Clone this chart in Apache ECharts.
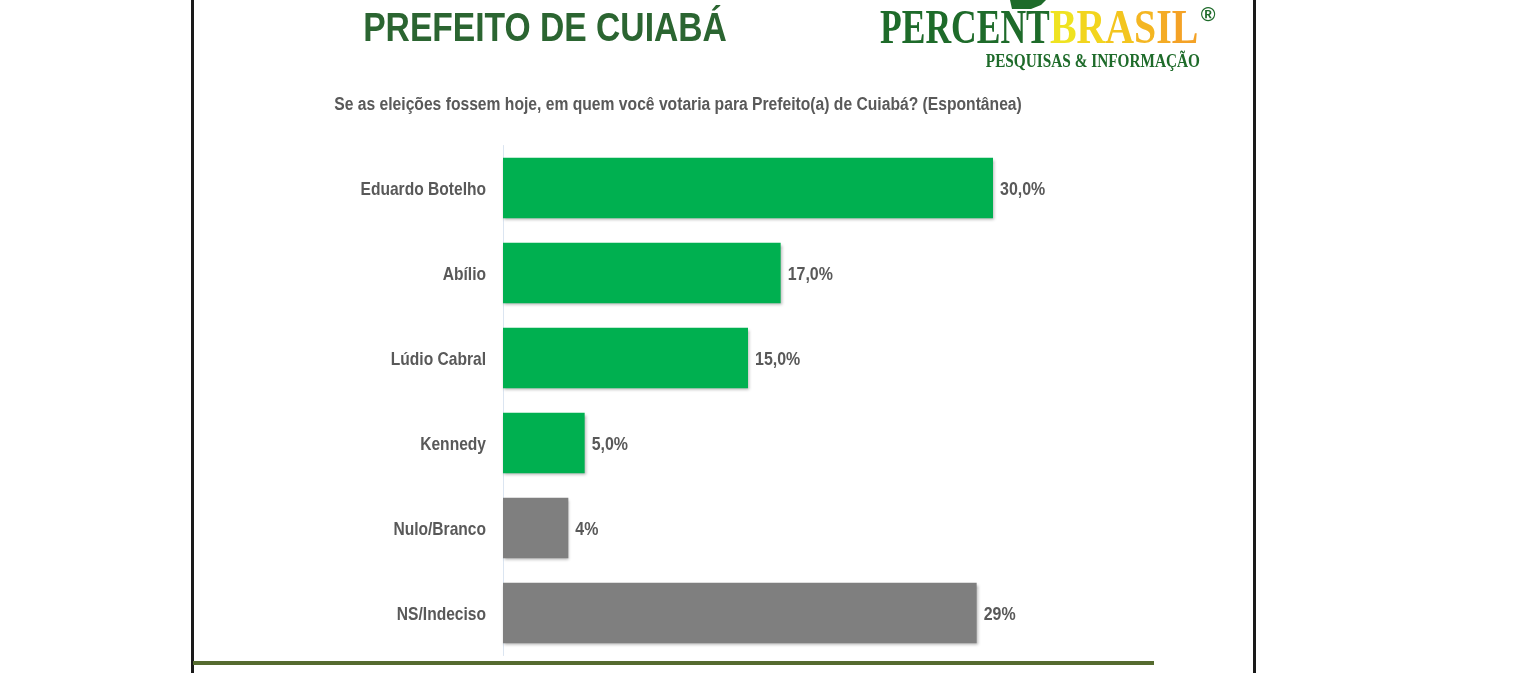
<!DOCTYPE html>
<html><head><meta charset="utf-8">
<script src="https://cdn.jsdelivr.net/npm/echarts@6/dist/echarts.min.js"></script>
<style>html,body{margin:0;padding:0;background:#fff}#c{width:1536px;height:686px}</style>
</head><body><div id="c"></div>
<script>
const categories = ['Eduardo Botelho','Abílio','Lúdio Cabral','Kennedy','Nulo/Branco','NS/Indeciso'];
const values = [30, 17, 15, 5, 4, 29];
const valueLabels = ['30,0%','17,0%','15,0%','5,0%','4%','29%'];
const barColors = ['#00b050','#00b050','#00b050','#00b050','#7f7f7f','#7f7f7f'];

const FONT = '"Liberation Sans",Arial,sans-serif';
const SERIF = '"Liberation Serif","Times New Roman",serif';
const NARROW = 0.82;
const chart = echarts.init(document.getElementById('c'));
chart.setOption({
  backgroundColor: '#fff',
  animation: false,
  grid: {left: 503, right: 543, top: 145.5, bottom: 30.5},
  xAxis: {type: 'value', min: 0, max: 30, show: false},
  yAxis: {
    type: 'category', inverse: true, data: categories,
    axisLine: {show: true, lineStyle: {color: '#dbe5f1', width: 1}},
    axisTick: {show: false},
    axisLabel: {show: false}
  },
  series: [{
    type: 'bar',
    barCategoryGap: '29%',
    data: values.map((v, i) => ({value: v, itemStyle: {color: barColors[i]}})),
    itemStyle: {shadowBlur: 3, shadowOffsetY: 2, shadowOffsetX: 1, shadowColor: 'rgba(0,0,0,0.3)'},
    label: {show: false}
  }]
});

// Labels placed through the library's own scales, drawn in a condensed form
const labelGfx = [];
categories.forEach((c, i) => {
  const p0 = chart.convertToPixel({gridIndex: 0}, [0, i]);
  const p1 = chart.convertToPixel({gridIndex: 0}, [values[i], i]);
  labelGfx.push({type: 'text', x: p0[0] - 17, y: p0[1] + 2, scaleX: NARROW,
    style: {text: c, fill: '#595959', font: 'bold 19px ' + FONT, textAlign: 'right', textVerticalAlign: 'middle'}});
  labelGfx.push({type: 'text', x: p1[0] + 7, y: p1[1] + 2, scaleX: 0.84,
    style: {text: valueLabels[i], fill: '#595959', font: 'bold 19px ' + FONT, textAlign: 'left', textVerticalAlign: 'middle'}});
});

const brasilColors = ['#efe321','#f2d51e','#f3c51f','#f4b622','#f4ab24','#f4a226'];
const rich = {};
let brasilText = '';
'BRASIL'.split('').forEach((ch, i) => {
  rich['c' + i] = {fill: brasilColors[i], font: 'bold 48px ' + SERIF};
  brasilText += '{c' + i + '|' + ch + '}';
});

chart.setOption({
  graphic: [
    {type: 'rect', shape: {x: 191, y: 0, width: 3, height: 673}, style: {fill: '#1a1a1a'}},
    {type: 'rect', shape: {x: 1253, y: 0, width: 3, height: 673}, style: {fill: '#1a1a1a'}},
    {type: 'rect', shape: {x: 193, y: 661, width: 961, height: 4}, style: {fill: '#556b2f'}},
    {type: 'text', x: 545, y: 30, scaleX: NARROW, style: {text: 'PREFEITO DE CUIABÁ', fill: '#2b6531', font: 'bold 41px ' + FONT, textAlign: 'center', textVerticalAlign: 'middle'}},
    {type: 'text', x: 678, y: 105, scaleX: 0.87, style: {text: 'Se as eleições fossem hoje, em quem você votaria para Prefeito(a) de Cuiabá? (Espontânea)', fill: '#595959', font: 'bold 18px ' + FONT, textAlign: 'center', textVerticalAlign: 'middle'}},
    {type: 'polygon', shape: {points: [[1010,0],[1046,0],[1041,5],[1031,9],[1012,9]]}, style: {fill: '#1e6b2a'}},
    {type: 'text', x: 880, y: 31, scaleX: 0.74, style: {text: 'PERCENT', fill: '#1e6b2a', font: 'bold 48px ' + SERIF, textAlign: 'left', textVerticalAlign: 'middle'}},
    {type: 'text', x: 1050, y: 31, scaleX: 0.83, style: {text: brasilText, rich: rich, font: 'bold 48px ' + SERIF, textAlign: 'left', textVerticalAlign: 'middle'}},
    {type: 'text', x: 1208, y: 15, style: {text: '®', fill: '#1e6b2a', font: 'bold 20px ' + FONT, textAlign: 'center', textVerticalAlign: 'middle'}},
    {type: 'text', x: 1200, y: 62, scaleX: 0.85, style: {text: 'PESQUISAS & INFORMAÇÃO', fill: '#1e6b2a', font: 'bold 18px ' + SERIF, textAlign: 'right', textVerticalAlign: 'middle'}},
    ...labelGfx
  ]
});
</script></body></html>
